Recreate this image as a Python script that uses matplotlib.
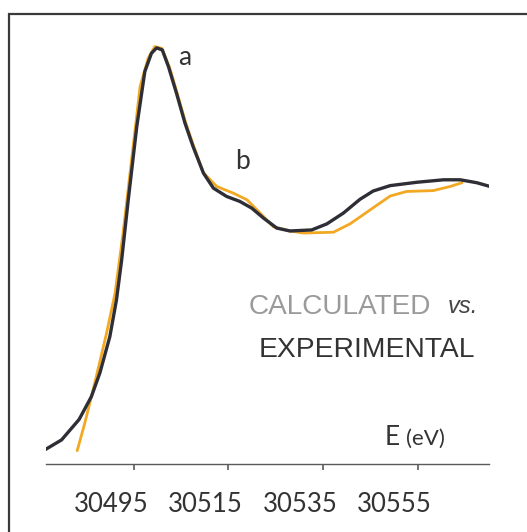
"""
XANES edge: calculated vs. experimental spectrum.
"""

# %% ---- Requirements and constants
import matplotlib
matplotlib.use("Agg")
import matplotlib.pyplot as plt
from matplotlib.patches import Rectangle
from matplotlib.transforms import ScaledTranslation

# experimental spectrum (dark curve), energy in eV, normalised absorption
exp_energy = [30476.3, 30479.7, 30483.4, 30486.0, 30487.8, 30489.9, 30491.3,
              30492.4, 30493.8, 30495.6, 30497.3, 30498.7, 30499.8, 30501.0,
              30502.3, 30504.0, 30505.8, 30507.5, 30509.7, 30511.8, 30514.6,
              30517.4, 30519.9, 30522.4, 30525.2, 30528.0, 30532.6, 30535.8,
              30539.3, 30542.8, 30545.6, 30549.2, 30554.8, 30560.5, 30564.0,
              30567.5, 30570.3]
exp_mu = [0.035, 0.058, 0.107, 0.162, 0.219, 0.306, 0.394,
          0.490, 0.635, 0.811, 0.943, 0.987, 1.000, 0.995,
          0.955, 0.891, 0.819, 0.763, 0.699, 0.663, 0.643,
          0.631, 0.615, 0.591, 0.567, 0.560, 0.5625, 0.577,
          0.603, 0.636, 0.656, 0.669, 0.677, 0.683, 0.683,
          0.676, 0.667]

# calculated spectrum (orange curve)
calc_energy = [30483.0, 30484.6, 30486.7, 30489.2, 30491.0, 30492.7, 30494.5,
               30496.3, 30498.0, 30499.4, 30500.9, 30502.6, 30504.1, 30505.9,
               30507.6, 30509.7, 30512.5, 30516.0, 30518.9, 30521.7, 30524.5,
               30528.0, 30530.8, 30537.2, 30540.7, 30545.0, 30549.2, 30552.7,
               30558.3, 30561.9, 30564.4]
calc_mu = [0.032, 0.098, 0.194, 0.314, 0.410, 0.555, 0.731,
           0.907, 0.975, 1.003, 0.999, 0.951, 0.893, 0.822,
           0.765, 0.700, 0.667, 0.651, 0.635, 0.603, 0.570,
           0.560, 0.555, 0.557, 0.577, 0.611, 0.644, 0.655,
           0.657, 0.667, 0.676]

tick_values = [30495, 30515, 30535, 30555]
tick_labels = ["30495", "30515", "30535", "30555"]

# peak labels: (text, energy, mu)
peak_labels = [("a", 30505.8, 0.978), ("b", 30517.9, 0.726)]

DARK = "#2e2e36"
ORANGE = "#f2a823"

# %% ---- Plot
fig = plt.figure(figsize=(5.27, 5.32), dpi=100)
fig.patch.set_facecolor("white")

# outer frame, cut by the right and bottom edges
fig.patches.append(Rectangle((9 / 527, -0.1), 1.2, 1 - 14 / 532 + 0.1,
                             transform=fig.transFigure, fill=False,
                             edgecolor="#3a3a3a", linewidth=1.6))

ax = fig.add_axes([46 / 527, 68 / 532, 443 / 527, 444 / 532])
ax.set_facecolor("none")

ax.plot(calc_energy, calc_mu, color=ORANGE, lw=2.0,
        solid_joinstyle="round", solid_capstyle="round")
ax.plot(exp_energy, exp_mu, color=DARK, lw=2.4,
        solid_joinstyle="round", solid_capstyle="round")

ax.set_xlim(30476.4, 30570.1)
ax.set_ylim(0, 1.067)

for side in ["top", "right", "left"]:
    ax.spines[side].set_visible(False)
ax.spines["bottom"].set_color("#5a5a5a")
ax.spines["bottom"].set_linewidth(1.0)

ax.set_yticks([])
ax.set_xticks(tick_values)
ax.set_xticklabels(tick_labels, family="Lato", fontsize=18.5, color="#333333")
ax.tick_params(axis="x", direction="out", length=4, width=1.2,
               color="#5a5a5a", pad=16)
# the labels sit a little left of their tick marks in the original
shift = ScaledTranslation(-23 / 100, 0, fig.dpi_scale_trans)
for lab in ax.get_xticklabels():
    lab.set_transform(lab.get_transform() + shift)

for txt, e, mu in peak_labels:
    ax.text(e, mu, txt, family="Lato", fontsize=19, color="#333333",
            ha="center", va="center")

ax.text(0.458, 0.354, "CALCULATED", transform=ax.transAxes,
        family="Liberation Sans", fontsize=20.2, color="#9a9a9a",
        ha="left", va="center")
ax.text(0.975, 0.354, "vs.", transform=ax.transAxes,
        family="Liberation Sans", style="italic", fontsize=17,
        color="#444444", ha="right", va="center")
ax.text(0.479, 0.257, "EXPERIMENTAL", transform=ax.transAxes,
        family="Liberation Sans", fontsize=20.3, color="#333333",
        ha="left", va="center")

ax.text(0.765, 0.043, "E", transform=ax.transAxes, family="Lato",
        fontsize=19, color="#333333", ha="left", va="baseline")
ax.text(0.812, 0.043, "(eV)", transform=ax.transAxes, family="Lato",
        fontsize=16, color="#333333", ha="left", va="baseline")

fig.savefig("out.png", dpi=100, facecolor="white")
